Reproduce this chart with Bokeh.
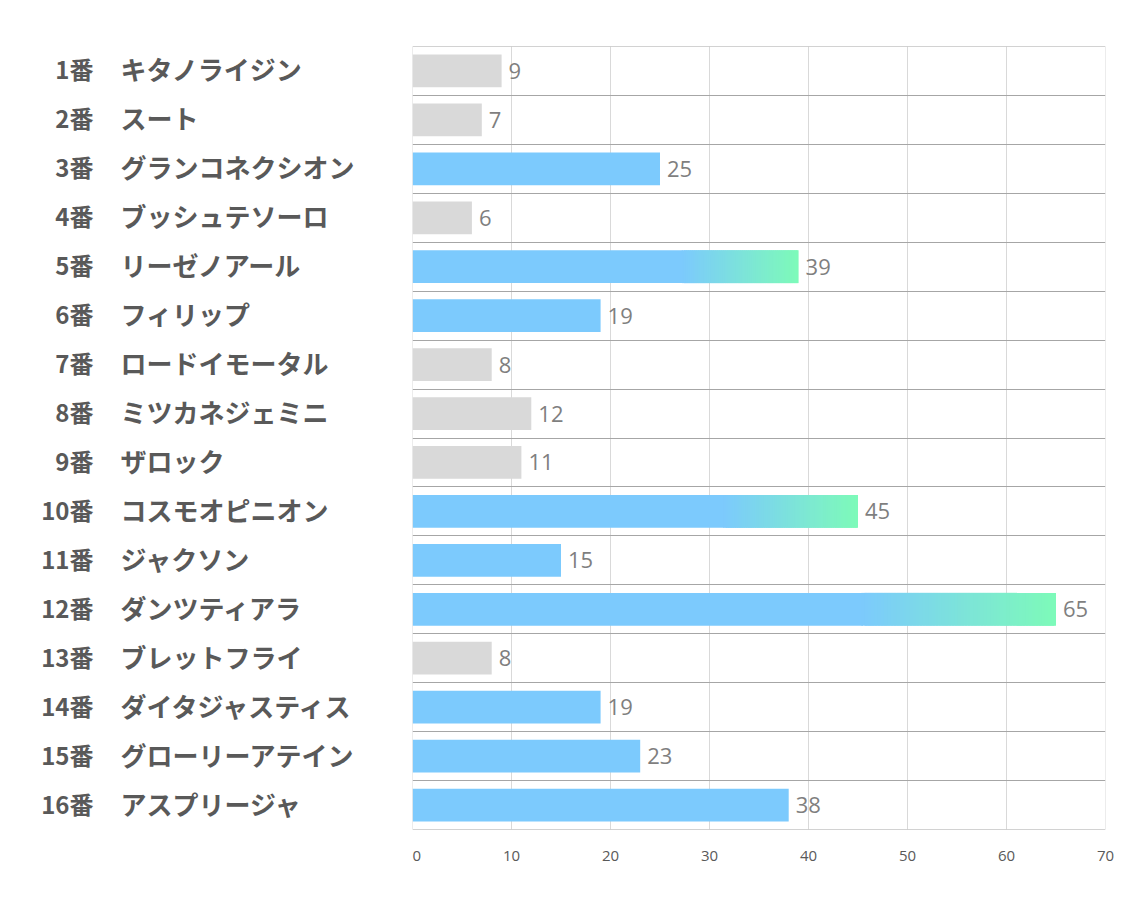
from bokeh.plotting import figure
from bokeh.layouts import row
from bokeh.models import Range1d, ColumnDataSource, FixedTicker, Span
from bokeh.core.properties import value
from bokeh.embed import file_html
from bokeh.resources import INLINE

numbers = ["1番", "2番", "3番", "4番", "5番", "6番", "7番", "8番",
           "9番", "10番", "11番", "12番", "13番", "14番", "15番", "16番"]
names = ["キタノライジン", "スート", "グランコネクシオン", "ブッシュテソーロ",
         "リーゼノアール", "フィリップ", "ロードイモータル", "ミツカネジェミニ",
         "ザロック", "コスモオピニオン", "ジャクソン", "ダンツティアラ",
         "ブレットフライ", "ダイタジャスティス", "グローリーアテイン", "アスプリージャ"]
values = [9, 7, 25, 6, 39, 19, 8, 12, 11, 45, 15, 65, 8, 19, 23, 38]
kinds = ["gray", "gray", "blue", "gray", "grad", "blue", "gray", "gray",
         "gray", "grad", "blue", "grad", "gray", "blue", "blue", "blue"]
x_ticks = [0, 10, 20, 30, 40, 50, 60, 70]

GRAY = "#d9d9d9"
BLUE = "#7ccafd"
GREEN = (125, 250, 185)
BLUE_RGB = (124, 202, 253)
GRAD_START = 0.70
N_SLICES = 60
BAR_H = 0.67

n = len(values)
rows = list(range(1, n + 1))
y_range = Range1d(n + 0.5, 0.5)

# ---- left label panel ----
lp = figure(width=412, height=907, output_backend="svg", toolbar_location=None,
            x_range=Range1d(0, 412), y_range=y_range,
            min_border_left=0, min_border_right=0, min_border_top=46,
            min_border_bottom=78)
lp.axis.visible = False
lp.grid.visible = False
lp.outline_line_color = None
lp.border_fill_color = "white"
lsrc = ColumnDataSource(dict(y=rows, num=numbers, name=names,
                             xn=[93] * n, xm=[120] * n))
lp.text(x="xn", y="y", text="num", source=lsrc, text_align="right",
        text_baseline="middle", text_font=value("Noto Sans CJK JP"),
        text_font_style="bold", text_font_size="24px", text_color="#595959",
        y_offset=-2)
lp.text(x="xm", y="y", text="name", source=lsrc, text_align="left",
        text_baseline="middle", text_font=value("Noto Sans CJK JP"),
        text_font_style="bold", text_font_size="26px", text_color="#595959",
        y_offset=-2)

# ---- chart ----
p = figure(width=722, height=907, output_backend="svg", toolbar_location=None,
           x_range=Range1d(0, 70), y_range=y_range,
           min_border_left=0, min_border_right=29, min_border_top=46,
           min_border_bottom=78)
p.outline_line_color = None
p.border_fill_color = "white"

p.xgrid.ticker = FixedTicker(ticks=x_ticks)
p.xgrid.grid_line_color = "#d9d9d9"
p.ygrid.ticker = FixedTicker(ticks=[r + 0.5 for r in range(0, n + 1)])
p.ygrid.grid_line_color = "#a6a6a6"
p.add_layout(Span(location=0, dimension="height", line_color="#d9d9d9", line_width=1))
p.add_layout(Span(location=70, dimension="height", line_color="#d9d9d9", line_width=1))
p.add_layout(Span(location=0.5, dimension="width", line_color="#a6a6a6", line_width=1))
p.add_layout(Span(location=n + 0.5, dimension="width", line_color="#a6a6a6", line_width=1))

p.yaxis.visible = False
p.xaxis.ticker = FixedTicker(ticks=x_ticks)
p.xaxis.axis_line_color = None
p.xaxis.major_tick_line_color = None
p.xaxis.minor_tick_line_color = None
p.xaxis.major_label_standoff = 15
p.xaxis.major_label_text_font = "Open Sans"
p.xaxis.major_label_text_font_size = "15px"
p.xaxis.major_label_text_color = "#595959"

solid_right = [v * GRAD_START if k == "grad" else v for v, k in zip(values, kinds)]
colors = [GRAY if k == "gray" else BLUE for k in kinds]
p.hbar(y=rows, left=0, right=solid_right, height=BAR_H, fill_color=colors,
       line_color=None)

gl, gr, gy, gc = [], [], [], []
for r, v, k in zip(rows, values, kinds):
    if k != "grad":
        continue
    start = v * GRAD_START
    step = (v - start) / N_SLICES
    for i in range(N_SLICES):
        t = (i + 0.5) / N_SLICES
        c = tuple(int(round(BLUE_RGB[j] + (GREEN[j] - BLUE_RGB[j]) * t)) for j in range(3))
        gl.append(start + (i - 0.5) * step)
        gr.append(min(v, start + (i + 1.5) * step))
        gy.append(r)
        gc.append("#%02x%02x%02x" % c)
p.hbar(y=gy, left=gl, right=gr, height=BAR_H, fill_color=gc, line_color=None)

px_per_unit = (1105 - 412) / 70.0
vsrc = ColumnDataSource(dict(x=[v + 7 / px_per_unit for v in values], y=rows,
                             t=[str(v) for v in values]))
p.text(x="x", y="y", text="t", source=vsrc, text_align="left",
       text_baseline="middle", text_font=value("Open Sans"),
       text_font_size="22px", text_color="#7f7f7f")

layout = row(lp, p, spacing=0)
open("out.html", "w").write(file_html(layout, INLINE))
